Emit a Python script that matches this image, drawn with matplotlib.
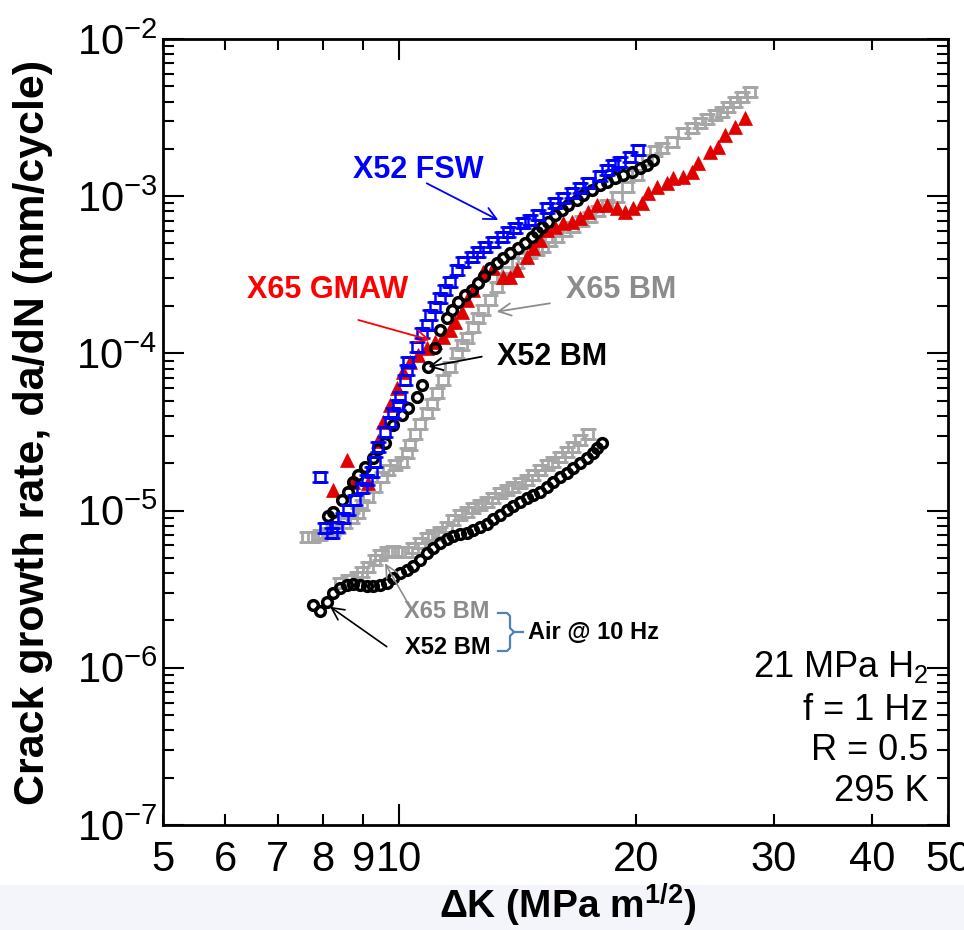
import numpy as np
import matplotlib
matplotlib.use('Agg')
import matplotlib.pyplot as plt
from matplotlib.path import Path
from matplotlib.patches import Rectangle
from matplotlib.lines import Line2D

plt.rcParams['font.family'] = ['Liberation Sans', 'DejaVu Sans']
plt.rcParams['mathtext.fontset'] = 'custom'
plt.rcParams['mathtext.rm'] = 'Liberation Sans'
plt.rcParams['mathtext.it'] = 'Liberation Sans:italic'
plt.rcParams['mathtext.bf'] = 'Liberation Sans:bold'

# ---------------- data ----------------
# X52 BM, air @ 10 Hz
dk_x52_air = [7.77, 7.92, 8.08, 8.24, 8.41, 8.57, 8.74, 8.91, 9.09, 9.27, 9.45, 9.64, 9.82, 10.02, 10.22,
              10.42, 10.62, 10.84, 11.05, 11.27, 11.49, 11.72, 11.95, 12.19, 12.43, 12.67, 12.92, 13.18,
              13.44, 13.71, 13.97, 14.25, 14.53, 14.82, 15.11, 15.41, 15.71, 16.02, 16.34, 16.66, 16.99,
              17.32, 17.66, 17.88, 18.10]
da_x52_air = [2.51e-6, 2.31e-6, 2.63e-6, 2.98e-6, 3.20e-6, 3.36e-6, 3.40e-6, 3.35e-6, 3.33e-6, 3.33e-6,
              3.38e-6, 3.48e-6, 3.71e-6, 3.99e-6, 4.19e-6, 4.44e-6, 4.85e-6, 5.35e-6, 5.76e-6, 6.19e-6,
              6.57e-6, 6.89e-6, 7.07e-6, 7.23e-6, 7.53e-6, 7.83e-6, 8.22e-6, 8.81e-6, 9.37e-6, 1.009e-5,
              1.070e-5, 1.139e-5, 1.197e-5, 1.257e-5, 1.319e-5, 1.419e-5, 1.527e-5, 1.643e-5, 1.742e-5,
              1.858e-5, 2.017e-5, 2.17e-5, 2.34e-5, 2.50e-5, 2.70e-5]

# X65 BM, air @ 10 Hz
dk_x65_air = [8.41, 8.61, 8.83, 8.96, 9.13, 9.31, 9.45, 9.64, 9.82, 10.02, 10.22, 10.42, 10.62, 10.84,
              11.05, 11.27, 11.49, 11.72, 11.95, 12.19, 12.43, 12.67, 12.92, 13.18, 13.44, 13.71, 13.97,
              14.25, 14.53, 14.82, 15.11, 15.41, 15.71, 16.02, 16.34, 16.66, 16.99, 17.41]
da_x65_air = [3.45e-6, 3.62e-6, 3.80e-6, 4.09e-6, 4.39e-6, 4.85e-6, 5.22e-6, 5.48e-6, 5.56e-6, 5.48e-6,
              5.48e-6, 5.76e-6, 6.19e-6, 6.67e-6, 7.00e-6, 7.34e-6, 7.90e-6, 8.72e-6, 9.37e-6, 9.84e-6,
              1.034e-5, 1.085e-5, 1.139e-5, 1.197e-5, 1.288e-5, 1.352e-5, 1.419e-5, 1.491e-5, 1.566e-5,
              1.684e-5, 1.812e-5, 1.95e-5, 2.05e-5, 2.20e-5, 2.37e-5, 2.55e-5, 2.81e-5, 3.07e-5]

# X52 FSW, 21 MPa H2
dk_x52_fsw = [7.92, 8.04, 8.20, 8.32, 8.48, 8.61, 8.78, 8.96, 9.09, 9.22, 9.31, 9.40, 9.59, 9.73, 9.82,
              9.97, 10.02, 10.17, 10.22, 10.27, 10.52, 10.68, 10.84, 10.94, 11.10, 11.27, 11.43, 11.60,
              11.83, 12.06, 12.37, 12.61, 12.86, 13.18, 13.51, 13.77, 14.04, 14.39, 14.68, 15.04, 15.41,
              15.79, 16.18, 16.58, 16.99, 17.41, 18.02, 18.37, 18.73, 19.10, 19.67, 20.16]
da_x52_fsw = [1.643e-5, 7.71e-6, 7.17e-6, 7.90e-6, 8.93e-6, 1.009e-5, 1.168e-5, 1.386e-5, 1.566e-5,
              1.768e-5, 2.05e-5, 2.55e-5, 3.18e-5, 3.68e-5, 4.16e-5, 4.69e-5, 5.30e-5, 6.77e-5, 7.84e-5,
              8.86e-5, 1.103e-4, 1.342e-4, 1.516e-4, 1.755e-4, 1.982e-4, 2.24e-4, 2.53e-4, 2.86e-4,
              3.39e-4, 3.83e-4, 4.12e-4, 4.43e-4, 4.77e-4, 5.14e-4, 5.53e-4, 5.94e-4, 6.25e-4, 6.72e-4,
              7.06e-4, 7.59e-4, 8.38e-4, 9.01e-4, 9.69e-4, 1.043e-3, 1.123e-3, 1.208e-3, 1.344e-3,
              1.468e-3, 1.579e-3, 1.657e-3, 1.783e-3, 1.967e-3]

# X65 GMAW, 21 MPa H2
dk_x65_gmaw = [8.24, 8.58, 8.74, 9.13, 9.40, 9.54, 9.73, 9.92, 10.12, 10.32, 10.57, 10.84, 11.10, 11.37,
               11.60, 11.78, 12.01, 12.19, 12.43, 12.79, 13.18, 13.57, 13.84, 14.11, 14.53, 14.81, 15.11,
               15.41, 15.79, 16.18, 16.58, 16.99, 17.41, 17.84, 18.37, 18.92, 19.39, 19.87, 20.36, 20.76,
               21.28, 21.90, 22.34, 23.00, 23.58, 24.03, 24.87, 25.49, 25.99, 26.77, 27.57]
da_x65_gmaw = [1.352e-5, 2.10e-5, 1.52e-5, 1.49e-5, 2.77e-5, 3.66e-5, 4.69e-5, 6.00e-5, 7.65e-5, 8.86e-5,
               9.77e-5, 1.077e-4, 1.187e-4, 1.272e-4, 1.409e-4, 1.59e-4, 1.84e-4, 2.19e-4, 2.53e-4,
               3.31e-4, 3.48e-4, 3.08e-4, 3.08e-4, 3.39e-4, 4.12e-4, 4.68e-4, 5.26e-4, 6.10e-4, 6.40e-4,
               6.72e-4, 6.88e-4, 7.23e-4, 7.96e-4, 8.79e-4, 8.79e-4, 8.38e-4, 7.96e-4, 8.38e-4, 9.01e-4,
               1.043e-3, 1.149e-3, 1.208e-3, 1.30e-3, 1.33e-3, 1.43e-3, 1.62e-3, 1.92e-3, 2.06e-3,
               2.45e-3, 2.77e-3, 3.13e-3]

# X52 BM, 21 MPa H2
dk_x52_h2 = [8.12, 8.24, 8.45, 8.61, 8.74, 8.87, 9.04, 9.27, 9.40, 9.59, 9.82, 10.07, 10.27, 10.52, 10.68,
             10.89, 11.10, 11.27, 11.49, 11.66, 11.89, 12.13, 12.37, 12.61, 12.83, 13.05, 13.31, 13.57,
             13.84, 14.18, 14.46, 14.75, 14.96, 15.19, 15.48, 15.79, 16.10, 16.42, 16.83, 17.16, 17.58,
             18.02, 18.37, 18.83, 19.29, 19.78, 20.26, 20.66, 21.07]
da_x52_h2 = [9.24e-6, 9.84e-6, 1.168e-5, 1.319e-5, 1.527e-5, 1.684e-5, 1.90e-5, 2.15e-5, 2.47e-5, 2.68e-5,
             3.50e-5, 4.05e-5, 4.47e-5, 5.30e-5, 6.30e-5, 8.23e-5, 1.077e-4, 1.409e-4, 1.672e-4, 1.888e-4,
             2.13e-4, 2.35e-4, 2.53e-4, 2.80e-4, 3.10e-4, 3.48e-4, 3.74e-4, 4.03e-4, 4.33e-4, 4.66e-4,
             5.02e-4, 5.53e-4, 5.94e-4, 6.40e-4, 6.88e-4, 7.59e-4, 8.17e-4, 8.79e-4, 9.46e-4, 1.018e-3,
             1.095e-3, 1.17e-3, 1.236e-3, 1.30e-3, 1.364e-3, 1.43e-3, 1.505e-3, 1.579e-3, 1.70e-3]

# X65 BM, 21 MPa H2
dk_x65_h2 = [7.63, 7.76, 7.92, 8.09, 8.24, 8.36, 8.53, 8.70, 8.87, 8.96, 9.13, 9.31, 9.50, 9.68, 9.87,
             10.07, 10.22, 10.32, 10.47, 10.62, 10.84, 11.00, 11.16, 11.38, 11.60, 11.83, 12.01, 12.19,
             12.43, 12.61, 12.79, 13.05, 13.31, 13.51, 13.71, 14.11, 14.39, 14.68, 14.96, 15.26, 15.56,
             15.87, 16.26, 16.66, 17.08, 17.50, 17.92, 18.37, 18.92, 19.49, 20.06, 20.66, 21.17, 21.59,
             22.23, 23.00, 23.58, 24.16, 24.64, 25.25, 25.74, 26.24, 26.77, 27.30, 27.98]
da_x65_h2 = [6.75e-6, 6.84e-6, 7.00e-6, 7.21e-6, 7.53e-6, 7.71e-6, 8.30e-6, 8.93e-6, 9.61e-6, 1.085e-5,
             1.226e-5, 1.419e-5, 1.643e-5, 1.81e-5, 1.95e-5, 2.05e-5, 2.31e-5, 2.61e-5, 3.07e-5, 3.56e-5,
             4.16e-5, 4.76e-5, 5.60e-5, 6.77e-5, 8.19e-5, 1.006e-4, 1.131e-4, 1.253e-4, 1.472e-4, 1.68e-4,
             1.888e-4, 2.19e-4, 2.64e-4, 3.02e-4, 3.29e-4, 3.74e-4, 4.05e-4, 4.33e-4, 4.55e-4, 4.77e-4,
             5.19e-4, 5.53e-4, 6.01e-4, 6.40e-4, 6.95e-4, 7.41e-4, 8.05e-4, 8.79e-4, 9.88e-4, 1.144e-3,
             1.364e-3, 1.70e-3, 1.94e-3, 2.03e-3, 2.22e-3, 2.51e-3, 2.70e-3, 2.92e-3, 3.10e-3, 3.28e-3,
             3.45e-3, 3.71e-3, 3.99e-3, 4.30e-3, 4.62e-3]

x_major_ticks = [10]
x_major_labels = ['10']
x_minor_ticks = [5, 6, 7, 8, 9, 20, 30, 40, 50]
x_minor_labels = ['5', '6', '7', '8', '9', '20', '30', '40', '50']
y_ticks = [1e-7, 1e-6, 1e-5, 1e-4, 1e-3, 1e-2]
y_labels = [r'$10^{-7}$', r'$10^{-6}$', r'$10^{-5}$', r'$10^{-4}$', r'$10^{-3}$', r'$10^{-2}$']
cond_lines = [r'21 MPa H$_2$', 'f = 1 Hz', 'R = 0.5', '295 K']

# ---------------- styling ----------------
BLUE = '#0000ff'
RED = '#e00000'
GRAY_M = '#a6a6a6'
GRAY_T = '#8c8c8c'

ibeam = Path([(-0.5, -0.5), (0.5, -0.5), (0.5, 0.5), (-0.5, 0.5), (-0.5, -0.5),
              (-0.75, 0.5), (0.75, 0.5), (-0.75, -0.5), (0.75, -0.5)],
             [Path.MOVETO, Path.LINETO, Path.LINETO, Path.LINETO, Path.CLOSEPOLY,
              Path.MOVETO, Path.LINETO, Path.MOVETO, Path.LINETO])

fig = plt.figure(figsize=(9.64, 9.30), dpi=100)
fig.patches.append(Rectangle((0, 0), 1, 0.048, transform=fig.transFigure,
                             facecolor='#f3f5fa', edgecolor='none', zorder=-10))
ax = fig.add_axes([0.1691, 0.1129, 0.8143, 0.8452])
ax.set_xscale('log')
ax.set_yscale('log')
ax.set_xlim(5, 50)
ax.set_ylim(1e-7, 1e-2)

ax.plot(dk_x65_air, da_x65_air, ls='none', marker=ibeam, ms=11, mfc='none', mec=GRAY_M, mew=2.0, zorder=2)
ax.plot(dk_x52_air, da_x52_air, ls='none', marker='o', ms=7, mfc='none', mec='black', mew=2.5, zorder=3)
ax.plot(dk_x65_h2, da_x65_h2, ls='none', marker=ibeam, ms=11, mfc='none', mec=GRAY_M, mew=2.0, zorder=2)
ax.plot(dk_x65_gmaw, da_x65_gmaw, ls='none', marker='^', ms=10, mfc=RED, mec=RED, mew=0.5, zorder=3)
ax.plot(dk_x52_h2, da_x52_h2, ls='none', marker='o', ms=7, mfc='none', mec='black', mew=2.5, zorder=4)
ax.plot(dk_x52_fsw, da_x52_fsw, ls='none', marker=ibeam, ms=11, mfc='none', mec=BLUE, mew=1.8, zorder=5)

# axes / ticks
for s in ax.spines.values():
    s.set_linewidth(2)
ax.set_xticks(x_major_ticks, x_major_labels)
ax.set_xticks(x_minor_ticks, x_minor_labels, minor=True)
ax.set_yticks(y_ticks, y_labels)
ax.yaxis.set_minor_locator(matplotlib.ticker.LogLocator(base=10, subs=np.arange(2, 10), numticks=20))
ax.yaxis.set_minor_formatter(matplotlib.ticker.NullFormatter())
ax.tick_params(which='both', direction='in', top=True, right=True, width=1.5, labelsize=30)
ax.tick_params(which='major', length=15)
ax.tick_params(which='minor', length=8)
ax.tick_params(axis='x', which='both', pad=11)
ax.tick_params(axis='y', which='both', pad=4)

ax.set_ylabel('Crack growth rate, da/dN (mm/cycle)', fontsize=31, fontweight='bold')
ax.yaxis.set_label_coords(-0.140, 0.5)
ax.set_xlabel(r'ΔK (MPa m$^{\mathbf{1/2}}$)', fontsize=28, fontweight='bold')
ax.xaxis.set_label_coords(0.516, -0.072)

# annotations (axes fraction)
def arrow(tail, tip, color, lw=1.3):
    ax.annotate('', xy=tip, xytext=tail, xycoords='axes fraction', textcoords='axes fraction',
                arrowprops=dict(arrowstyle='->', color=color, lw=lw, mutation_scale=22,
                                shrinkA=0, shrinkB=0), zorder=6)

ax.text(0.3248, 0.8333, 'X52 FSW', transform=ax.transAxes, color=BLUE, fontsize=22,
        fontweight='bold', ha='center', va='center')
arrow((0.3359, 0.8164), (0.4271, 0.7697), BLUE)
ax.text(0.2102, 0.6807, 'X65 GMAW', transform=ax.transAxes, color='#ff0000', fontsize=22,
        fontweight='bold', ha='center', va='center')
arrow((0.2488, 0.6425), (0.3401, 0.6170), '#ff0000')
ax.text(0.5834, 0.6807, 'X65 BM', transform=ax.transAxes, color=GRAY_T, fontsize=22,
        fontweight='bold', ha='center', va='center')
arrow((0.4930, 0.6637), (0.4251, 0.6530), GRAY_T)
ax.text(0.4955, 0.5954, 'X52 BM', transform=ax.transAxes, color='black', fontsize=22,
        fontweight='bold', ha='center', va='center')
arrow((0.4060, 0.5958), (0.3380, 0.5830), 'black')

ax.text(0.3618, 0.2710, 'X65 BM', transform=ax.transAxes, color=GRAY_T, fontsize=17,
        fontweight='bold', ha='center', va='center')
arrow((0.3146, 0.2777), (0.2828, 0.3329), GRAY_T, lw=1.2)
ax.text(0.3631, 0.2252, 'X52 BM', transform=ax.transAxes, color='black', fontsize=17,
        fontweight='bold', ha='center', va='center')
arrow((0.2850, 0.2269), (0.2127, 0.2777), 'black', lw=1.2)
ax.text(0.4650, 0.2443, 'Air @ 10 Hz', transform=ax.transAxes, color='black', fontsize=17,
        fontweight='bold', ha='left', va='center')

# brace
def af(px, py):
    return ((px - 163) / 785.0, (825 - py) / 786.0)
brace_px = [(498, 613), (507, 613), (510, 616), (510, 628), (514, 632), (510, 636),
            (510, 648), (507, 651), (498, 651)]
bx, by = zip(*[af(*p) for p in brace_px])
ax.add_line(Line2D(bx, by, transform=ax.transAxes, color='#4f81bd', lw=1.6))
tx, ty = zip(*[af(514, 632), af(523, 632)])
ax.add_line(Line2D(tx, ty, transform=ax.transAxes, color='#4f81bd', lw=1.6))

# conditions
for t, yy in zip(cond_lines, [0.201, 0.146, 0.0954, 0.042]):
    ax.text(0.975, yy, t, transform=ax.transAxes, fontsize=26, ha='right', va='center')

fig.savefig('out.png', dpi=100)
